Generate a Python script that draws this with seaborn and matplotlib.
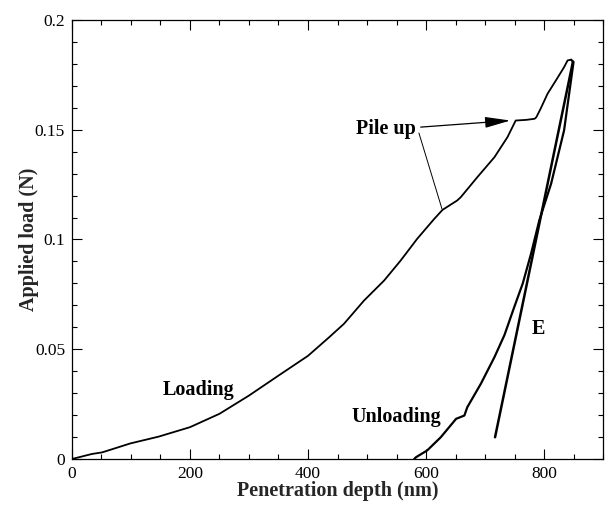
import matplotlib
matplotlib.use("Agg")
import matplotlib.pyplot as plt
import seaborn as sns
import pandas as pd
from matplotlib.ticker import MultipleLocator, FuncFormatter

# Loading curve (nm, N)
load_depth = [0, 34, 51, 99, 147, 200, 250, 300, 350, 400, 436, 461, 495, 529, 557,
              585, 614, 628, 653, 659, 687, 716, 738, 752, 770, 784, 787, 795, 806,
              820, 834, 840, 846]
load_force = [0, 0.0023, 0.003, 0.0071, 0.0102, 0.0145, 0.0206, 0.0289, 0.038, 0.047,
              0.0555, 0.0616, 0.0722, 0.0813, 0.0904, 0.1003, 0.1094, 0.1135, 0.1178,
              0.1193, 0.1284, 0.1375, 0.1466, 0.1542, 0.1545, 0.155, 0.1557, 0.160,
              0.1664, 0.1724, 0.1785, 0.1816, 0.1819]

# Unloading curve
unload_depth = [846, 850, 834, 812, 792, 778, 764, 749, 733, 716, 693, 670, 665, 651,
                625, 602, 583, 580]
unload_force = [0.1819, 0.1808, 0.1497, 0.1254, 0.1087, 0.0935, 0.0800, 0.0688, 0.0565,
                0.0464, 0.0343, 0.0236, 0.0198, 0.0183, 0.0099, 0.0039, 0.0008, 0.0]

# Stiffness line E
e_depth = [717, 849]
e_force = [0.0099, 0.181]

sns.set_theme(style="ticks")
plt.rcParams['font.family'] = ['Liberation Serif', 'DejaVu Serif']

fig = plt.figure(figsize=(6.08, 5.05), dpi=100)
ax = fig.add_axes([0.1184, 0.0911, 0.8734, 0.8693])

df_load = pd.DataFrame({"depth": load_depth, "force": load_force})
df_unload = pd.DataFrame({"depth": unload_depth, "force": unload_force})
df_e = pd.DataFrame({"depth": e_depth, "force": e_force})

sns.lineplot(data=df_load, x="depth", y="force", sort=False, estimator=None,
             color="black", linewidth=1.3, ax=ax)
sns.lineplot(data=df_unload, x="depth", y="force", sort=False, estimator=None,
             color="black", linewidth=1.6, ax=ax)
sns.lineplot(data=df_e, x="depth", y="force", sort=False, estimator=None,
             color="black", linewidth=1.8, ax=ax)

ax.set_xlim(0, 900)
ax.set_ylim(0, 0.2)
ax.xaxis.set_major_locator(MultipleLocator(200))
ax.xaxis.set_minor_locator(MultipleLocator(50))
ax.yaxis.set_major_locator(MultipleLocator(0.05))
ax.yaxis.set_minor_locator(MultipleLocator(0.01))
ax.yaxis.set_major_formatter(FuncFormatter(lambda v, p: f"{v:g}"))

ax.tick_params(which="both", direction="in", top=True, right=True, labelsize=12.5,
               width=0.8, colors="black")
ax.tick_params(which="major", length=7, pad=5)
ax.tick_params(which="minor", length=3.5)
for s in ax.spines.values():
    s.set_linewidth(0.9)
    s.set_color("black")

ax.set_xlabel("Penetration depth (nm)", fontsize=14.5, fontweight="bold", labelpad=-1)
ax.set_ylabel("Applied load (N)", fontsize=14.5, fontweight="bold", labelpad=-3)

tkw = dict(fontsize=14.5, fontweight="bold", color="black")
ax.text(215, 0.0315, "Loading", ha="center", va="center", **tkw)
ax.text(549, 0.019, "Unloading", ha="center", va="center", **tkw)
ax.text(790, 0.059, "E", ha="center", va="center", **tkw)
ax.text(532, 0.1505, "Pile up", ha="center", va="center", **tkw)

ax.annotate("", xy=(743, 0.1542), xytext=(591, 0.1512),
            arrowprops=dict(arrowstyle="-|>,head_length=1.3,head_width=0.28",
                            color="black", lw=0.9, shrinkA=0, shrinkB=0))
ax.plot([588, 627], [0.1485, 0.1140], color="black", lw=0.7)

fig.savefig("out.png", dpi=100)
